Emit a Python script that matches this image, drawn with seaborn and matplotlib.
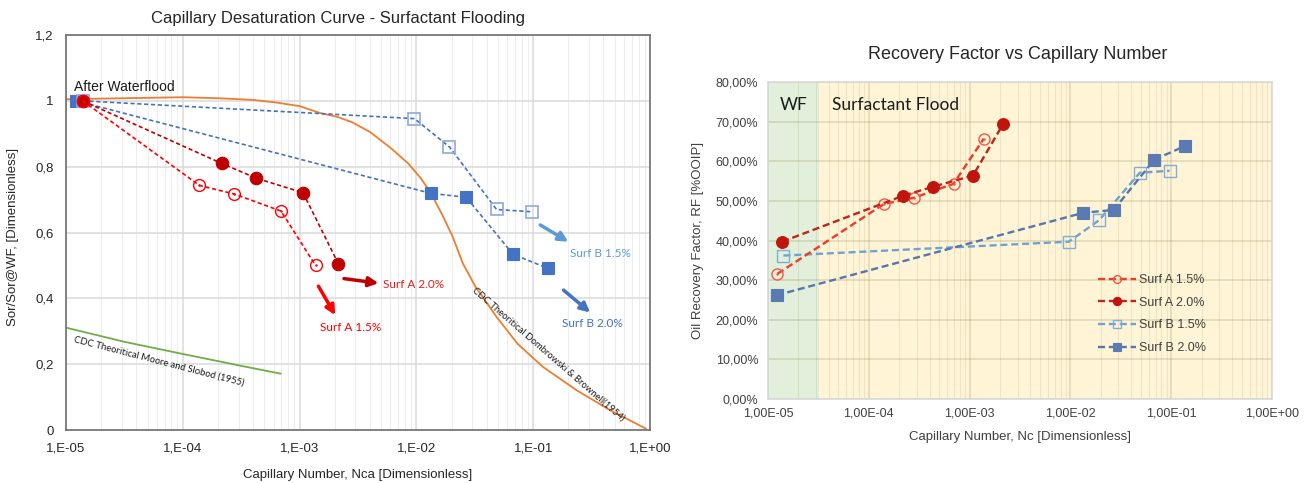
import numpy as np
import pandas as pd
import matplotlib
matplotlib.use("Agg")
import matplotlib.pyplot as plt
import seaborn as sns
from matplotlib.ticker import FixedLocator, FuncFormatter, LogLocator, NullFormatter

# ---------------- data: left chart (Sor/Sor@WF) ----------------
nca_a15 = [1.39e-5, 1.39e-4, 2.76e-4, 6.94e-4, 1.37e-3]
sor_a15 = [1.0, 0.743, 0.717, 0.665, 0.500]
nca_a20 = [1.39e-5, 2.15e-4, 4.26e-4, 1.07e-3, 2.15e-3]
sor_a20 = [1.0, 0.810, 0.765, 0.721, 0.505]
nca_b15 = [1.39e-5, 9.63e-3, 1.92e-2, 4.86e-2, 9.68e-2]
sor_b15 = [1.0, 0.946, 0.860, 0.670, 0.663]
nca_b20 = [1.23e-5, 1.33e-2, 2.67e-2, 6.72e-2, 1.34e-1]
sor_b20 = [1.0, 0.719, 0.707, 0.534, 0.491]

# theoretical CDC curves
nca_dombrowski = [1.0e-5, 3.16e-5, 1.0e-4, 2.0e-4, 3.98e-4, 6.31e-4, 1.0e-3, 1.50e-3,
                  2.08e-3, 2.82e-3, 4.03e-3, 6.11e-3, 8.51e-3, 1.09e-2, 1.33e-2,
                  1.66e-2, 2.03e-2, 2.50e-2, 3.21e-2, 4.85e-2, 7.35e-2, 1.21e-1,
                  2.35e-1, 4.57e-1, 9.25e-1]
sor_dombrowski = [1.005, 1.008, 1.011, 1.008, 1.003, 0.995, 0.984, 0.963, 0.952,
                  0.935, 0.905, 0.855, 0.810, 0.765, 0.720, 0.655, 0.590, 0.506,
                  0.435, 0.344, 0.262, 0.192, 0.121, 0.060, 0.004]
nca_moore = [1.0e-5, 3.16e-5, 1.0e-4, 3.16e-4, 6.9e-4]
sor_moore = [0.311, 0.268, 0.231, 0.195, 0.171]

# ---------------- data: right chart (Recovery factor) ----------------
nc_a15 = [1.24e-5, 1.41e-4, 2.81e-4, 6.92e-4, 1.38e-3]
rf_a15 = [31.6, 49.2, 50.8, 54.3, 65.7]
nc_a20 = [1.38e-5, 2.19e-4, 4.37e-4, 1.08e-3, 2.15e-3]
rf_a20 = [39.7, 51.3, 53.6, 56.4, 69.4]
nc_b15 = [1.42e-5, 9.64e-3, 1.92e-2, 4.88e-2, 9.64e-2]
rf_b15 = [36.2, 39.7, 45.1, 57.1, 57.6]
nc_b20 = [1.22e-5, 1.34e-2, 2.68e-2, 6.79e-2, 1.36e-1]
rf_b20 = [26.2, 47.0, 47.7, 60.4, 63.8]

wf_band = [1e-5, 3.2e-5]
surf_band = [3.2e-5, 1.0]

series_labels = ["Surf A 1.5%", "Surf A 2.0%", "Surf B 1.5%", "Surf B 2.0%"]
x_ticks = [1e-5, 1e-4, 1e-3, 1e-2, 1e-1, 1e0]
left_xticklabels = ["1,E-05", "1,E-04", "1,E-03", "1,E-02", "1,E-01", "1,E+00"]
right_xticklabels = ["1,00E-05", "1,00E-04", "1,00E-03", "1,00E-02", "1,00E-01", "1,00E+00"]
left_yticks = [0, 0.2, 0.4, 0.6, 0.8, 1.0, 1.2]
left_yticklabels = ["0", "0,2", "0,4", "0,6", "0,8", "1", "1,2"]
right_yticks = [0, 10, 20, 30, 40, 50, 60, 70, 80]
right_yticklabels = ["0,00%", "10,00%", "20,00%", "30,00%", "40,00%", "50,00%",
                     "60,00%", "70,00%", "80,00%"]

# ---------------- style ----------------
sns.set_theme(style="white")
plt.rcParams["font.family"] = ["Liberation Sans", "DejaVu Sans"]
CAL = ["Lato", "DejaVu Sans"]

RED = "#FF0000"
DRED = "#C00000"
LBLUE = "#5B9BD5"
BLUE = "#4472C4"

fig = plt.figure(figsize=(13.12, 4.83), dpi=100)
ax1 = fig.add_axes([0.0503, 0.1097, 0.4451, 0.8178])
ax2 = fig.add_axes([0.5854, 0.1739, 0.3841, 0.6563])

# ================= LEFT CHART =================
ax1.set_xscale("log")
ax1.set_xlim(1e-5, 1e0)
ax1.set_ylim(0, 1.2)

sns.lineplot(x=nca_dombrowski, y=sor_dombrowski, ax=ax1, color="#ED7D31", lw=1.3,
             estimator=None, sort=False, zorder=2)
sns.lineplot(x=nca_moore, y=sor_moore, ax=ax1, color="#70AD47", lw=1.3,
             estimator=None, sort=False, zorder=2)

dash = (0, (2.5, 1.6))
sns.lineplot(x=nca_b20, y=sor_b20, ax=ax1, color=BLUE, lw=1.2, linestyle=dash,
             marker="s", markersize=8.5, markerfacecolor=BLUE, markeredgecolor=BLUE,
             markeredgewidth=0.8, estimator=None, sort=False, zorder=3)
sns.lineplot(x=nca_b15, y=sor_b15, ax=ax1, color=BLUE, lw=1.2, linestyle=dash,
             marker="s", markersize=8.5, markerfacecolor="none", markeredgecolor="#8EAADB",
             markeredgewidth=1.2, estimator=None, sort=False, zorder=3)
sns.lineplot(x=nca_a20, y=sor_a20, ax=ax1, color=DRED, lw=1.2, linestyle=dash,
             marker="o", markersize=9, markerfacecolor=DRED, markeredgecolor=DRED,
             markeredgewidth=0.8, estimator=None, sort=False, zorder=4)
sns.lineplot(x=nca_a15, y=sor_a15, ax=ax1, color=RED, lw=1.2, linestyle=dash,
             marker="o", markersize=8.5, markerfacecolor="none", markeredgecolor=RED,
             markeredgewidth=1.0, estimator=None, sort=False, zorder=4)
sns.scatterplot(x=nca_a15[1:], y=sor_a15[1:], ax=ax1, color=RED, s=3, linewidth=0, zorder=5)

ax1.xaxis.set_major_locator(FixedLocator(x_ticks))
ax1.xaxis.set_major_formatter(FuncFormatter(lambda v, p: left_xticklabels[int(round(np.log10(v))) + 5]))
ax1.xaxis.set_minor_locator(LogLocator(base=10, subs=np.arange(2, 10)))
ax1.xaxis.set_minor_formatter(NullFormatter())
ax1.yaxis.set_major_locator(FixedLocator(left_yticks))
ax1.set_yticklabels(left_yticklabels)
ax1.tick_params(axis="both", which="both", length=0, labelsize=9.5, colors="#262626")
ax1.tick_params(axis="x", pad=9)
ax1.tick_params(axis="y", pad=9)
ax1.grid(True, which="major", axis="both", color="#DADADA", lw=1.1)
ax1.grid(True, which="minor", axis="x", color="#EDEDED", lw=0.8)
for s in ax1.spines.values():
    s.set_visible(True)
    s.set_color("#6E6E6E")
    s.set_linewidth(1.2)

ax1.set_title("Capillary Desaturation Curve - Surfactant Flooding", fontsize=12,
              color="#262626", x=0.466, y=1.03, pad=0)
ax1.set_xlabel("Capillary Number, Nca [Dimensionless]", fontsize=9.5, color="#262626")
ax1.set_ylabel("Sor/Sor@WF, [Dimensionless]", fontsize=9.5, color="#262626")
ax1.xaxis.set_label_coords(0.5, -0.098)
ax1.yaxis.set_label_coords(-0.08, 0.49)

ax1.text(1.16e-5, 1.042, "After Waterflood", fontsize=10, color="#1A1A1A",
         ha="left", va="center")

# arrows + labels
arrow_specs = [
    ((1.15e-1, 0.623), (2.0e-1, 0.572), LBLUE),
    ((1.82e-1, 0.425), (3.08e-1, 0.357), BLUE),
    ((2.40e-3, 0.460), (4.74e-3, 0.446), DRED),
    ((1.45e-3, 0.437), (2.02e-3, 0.349), RED),
]
for start, end, c in arrow_specs:
    ax1.annotate("", xy=end, xytext=start,
                 arrowprops=dict(arrowstyle="-|>", color=c, lw=2.5, mutation_scale=14,
                                 shrinkA=0, shrinkB=0))
ax1.text(2.07e-1, 0.535, "Surf B 1.5%", color=LBLUE, fontsize=8.5, family=CAL, va="center")
ax1.text(1.76e-1, 0.325, "Surf B 2.0%", color=BLUE, fontsize=8.5, family=CAL, va="center")
ax1.text(5.15e-3, 0.443, "Surf A 2.0%", color="#E0201B", fontsize=8.5, family=CAL, va="center")
ax1.text(1.51e-3, 0.311, "Surf A 1.5%", color=RED, fontsize=8.5, family=CAL, va="center")

ax1.text(3.3e-2, 0.44, "CDC Theoritical Dombrowski & Brownell(1954)", fontsize=6.8,
         family=CAL, color="#1A1A1A", rotation=-41, rotation_mode="anchor",
         ha="left", va="top")
ax1.text(1.19e-5, 0.29, "CDC Theoritical Moore and Slobod (1955)", fontsize=6.8,
         family=CAL, color="#1A1A1A", rotation=-14.5, rotation_mode="anchor",
         ha="left", va="top")

# ================= RIGHT CHART =================
ax2.set_xscale("log")
ax2.set_xlim(1e-5, 1e0)
ax2.set_ylim(0, 80)
ax2.axvspan(wf_band[0], wf_band[1], color="#E2EFDA", zorder=0, lw=0)
ax2.axvspan(surf_band[0], surf_band[1], color="#FFF4D6", zorder=0, lw=0)

rdash = (0, (3.0, 1.6))
sns.lineplot(x=nc_a15, y=rf_a15, ax=ax2, color="#F23A2A", lw=1.7, linestyle=rdash,
             marker="o", markersize=8, markerfacecolor="none", markeredgecolor="#F4574A",
             markeredgewidth=1.0, estimator=None, sort=False, zorder=4, label=series_labels[0])
sns.lineplot(x=nc_a20, y=rf_a20, ax=ax2, color="#C0241A", lw=1.7, linestyle=rdash,
             marker="o", markersize=8.5, markerfacecolor="#C0140C", markeredgecolor="#C0140C",
             markeredgewidth=0.8, estimator=None, sort=False, zorder=4, label=series_labels[1])
sns.lineplot(x=nc_b15, y=rf_b15, ax=ax2, color="#6FA3CF", lw=1.7, linestyle=rdash,
             marker="s", markersize=8.5, markerfacecolor="none", markeredgecolor="#7FAFD6",
             markeredgewidth=1.0, estimator=None, sort=False, zorder=3, label=series_labels[2])
sns.lineplot(x=nc_b20, y=rf_b20, ax=ax2, color="#5677AE", lw=1.7, linestyle=rdash,
             marker="s", markersize=9, markerfacecolor="#5A7BB2", markeredgecolor="#5A7BB2",
             markeredgewidth=0.8, estimator=None, sort=False, zorder=3, label=series_labels[3])
sns.scatterplot(x=nc_a15, y=rf_a15, ax=ax2, color="#F4574A", s=3, linewidth=0, zorder=5)

ax2.xaxis.set_major_locator(FixedLocator(x_ticks))
ax2.xaxis.set_major_formatter(FuncFormatter(lambda v, p: right_xticklabels[int(round(np.log10(v))) + 5]))
ax2.xaxis.set_minor_locator(LogLocator(base=10, subs=np.arange(2, 10)))
ax2.xaxis.set_minor_formatter(NullFormatter())
ax2.yaxis.set_major_locator(FixedLocator(right_yticks))
ax2.set_yticklabels(right_yticklabels)
ax2.tick_params(axis="both", which="both", length=0, labelsize=9, colors="#404040")
ax2.tick_params(axis="x", pad=6)
ax2.tick_params(axis="y", pad=7)
ax2.grid(True, which="major", axis="both", color="#8C7F4C", alpha=0.26, lw=1.1)
ax2.grid(True, which="minor", axis="x", color="#8C7F4C", alpha=0.14, lw=0.8)
ax2.set_axisbelow(True)
for s in ax2.spines.values():
    s.set_visible(True)
    s.set_color("#D9D9D9")
    s.set_linewidth(1.2)

ax2.set_title("Recovery Factor vs Capillary Number", fontsize=13, color="#262626",
              x=0.496, y=1.072, pad=0)
ax2.set_xlabel("Capillary Number, Nc [Dimensionless]", fontsize=9.5, color="#404040")
ax2.set_ylabel("Oil Recovery Factor, RF [%OOIP]", fontsize=9.5, color="#404040")
ax2.xaxis.set_label_coords(0.5, -0.1)
ax2.yaxis.set_label_coords(-0.128, 0.5)

ax2.text(1.3e-5, 74.2, "WF", fontsize=12.5, family=CAL, color="#1A1A1A", ha="left", va="center")
ax2.text(4.28e-5, 74.2, "Surfactant Flood", fontsize=12.5, family=CAL, color="#1A1A1A",
         ha="left", va="center")

leg = ax2.legend(loc="upper left", bbox_to_anchor=(0.645, 0.41), frameon=False,
                 fontsize=9, handlelength=3.0, handletextpad=0.3, labelspacing=0.85,
                 markerscale=0.7, borderaxespad=0)
for t in leg.get_texts():
    t.set_color("#404040")

fig.savefig("out.png", dpi=100)
